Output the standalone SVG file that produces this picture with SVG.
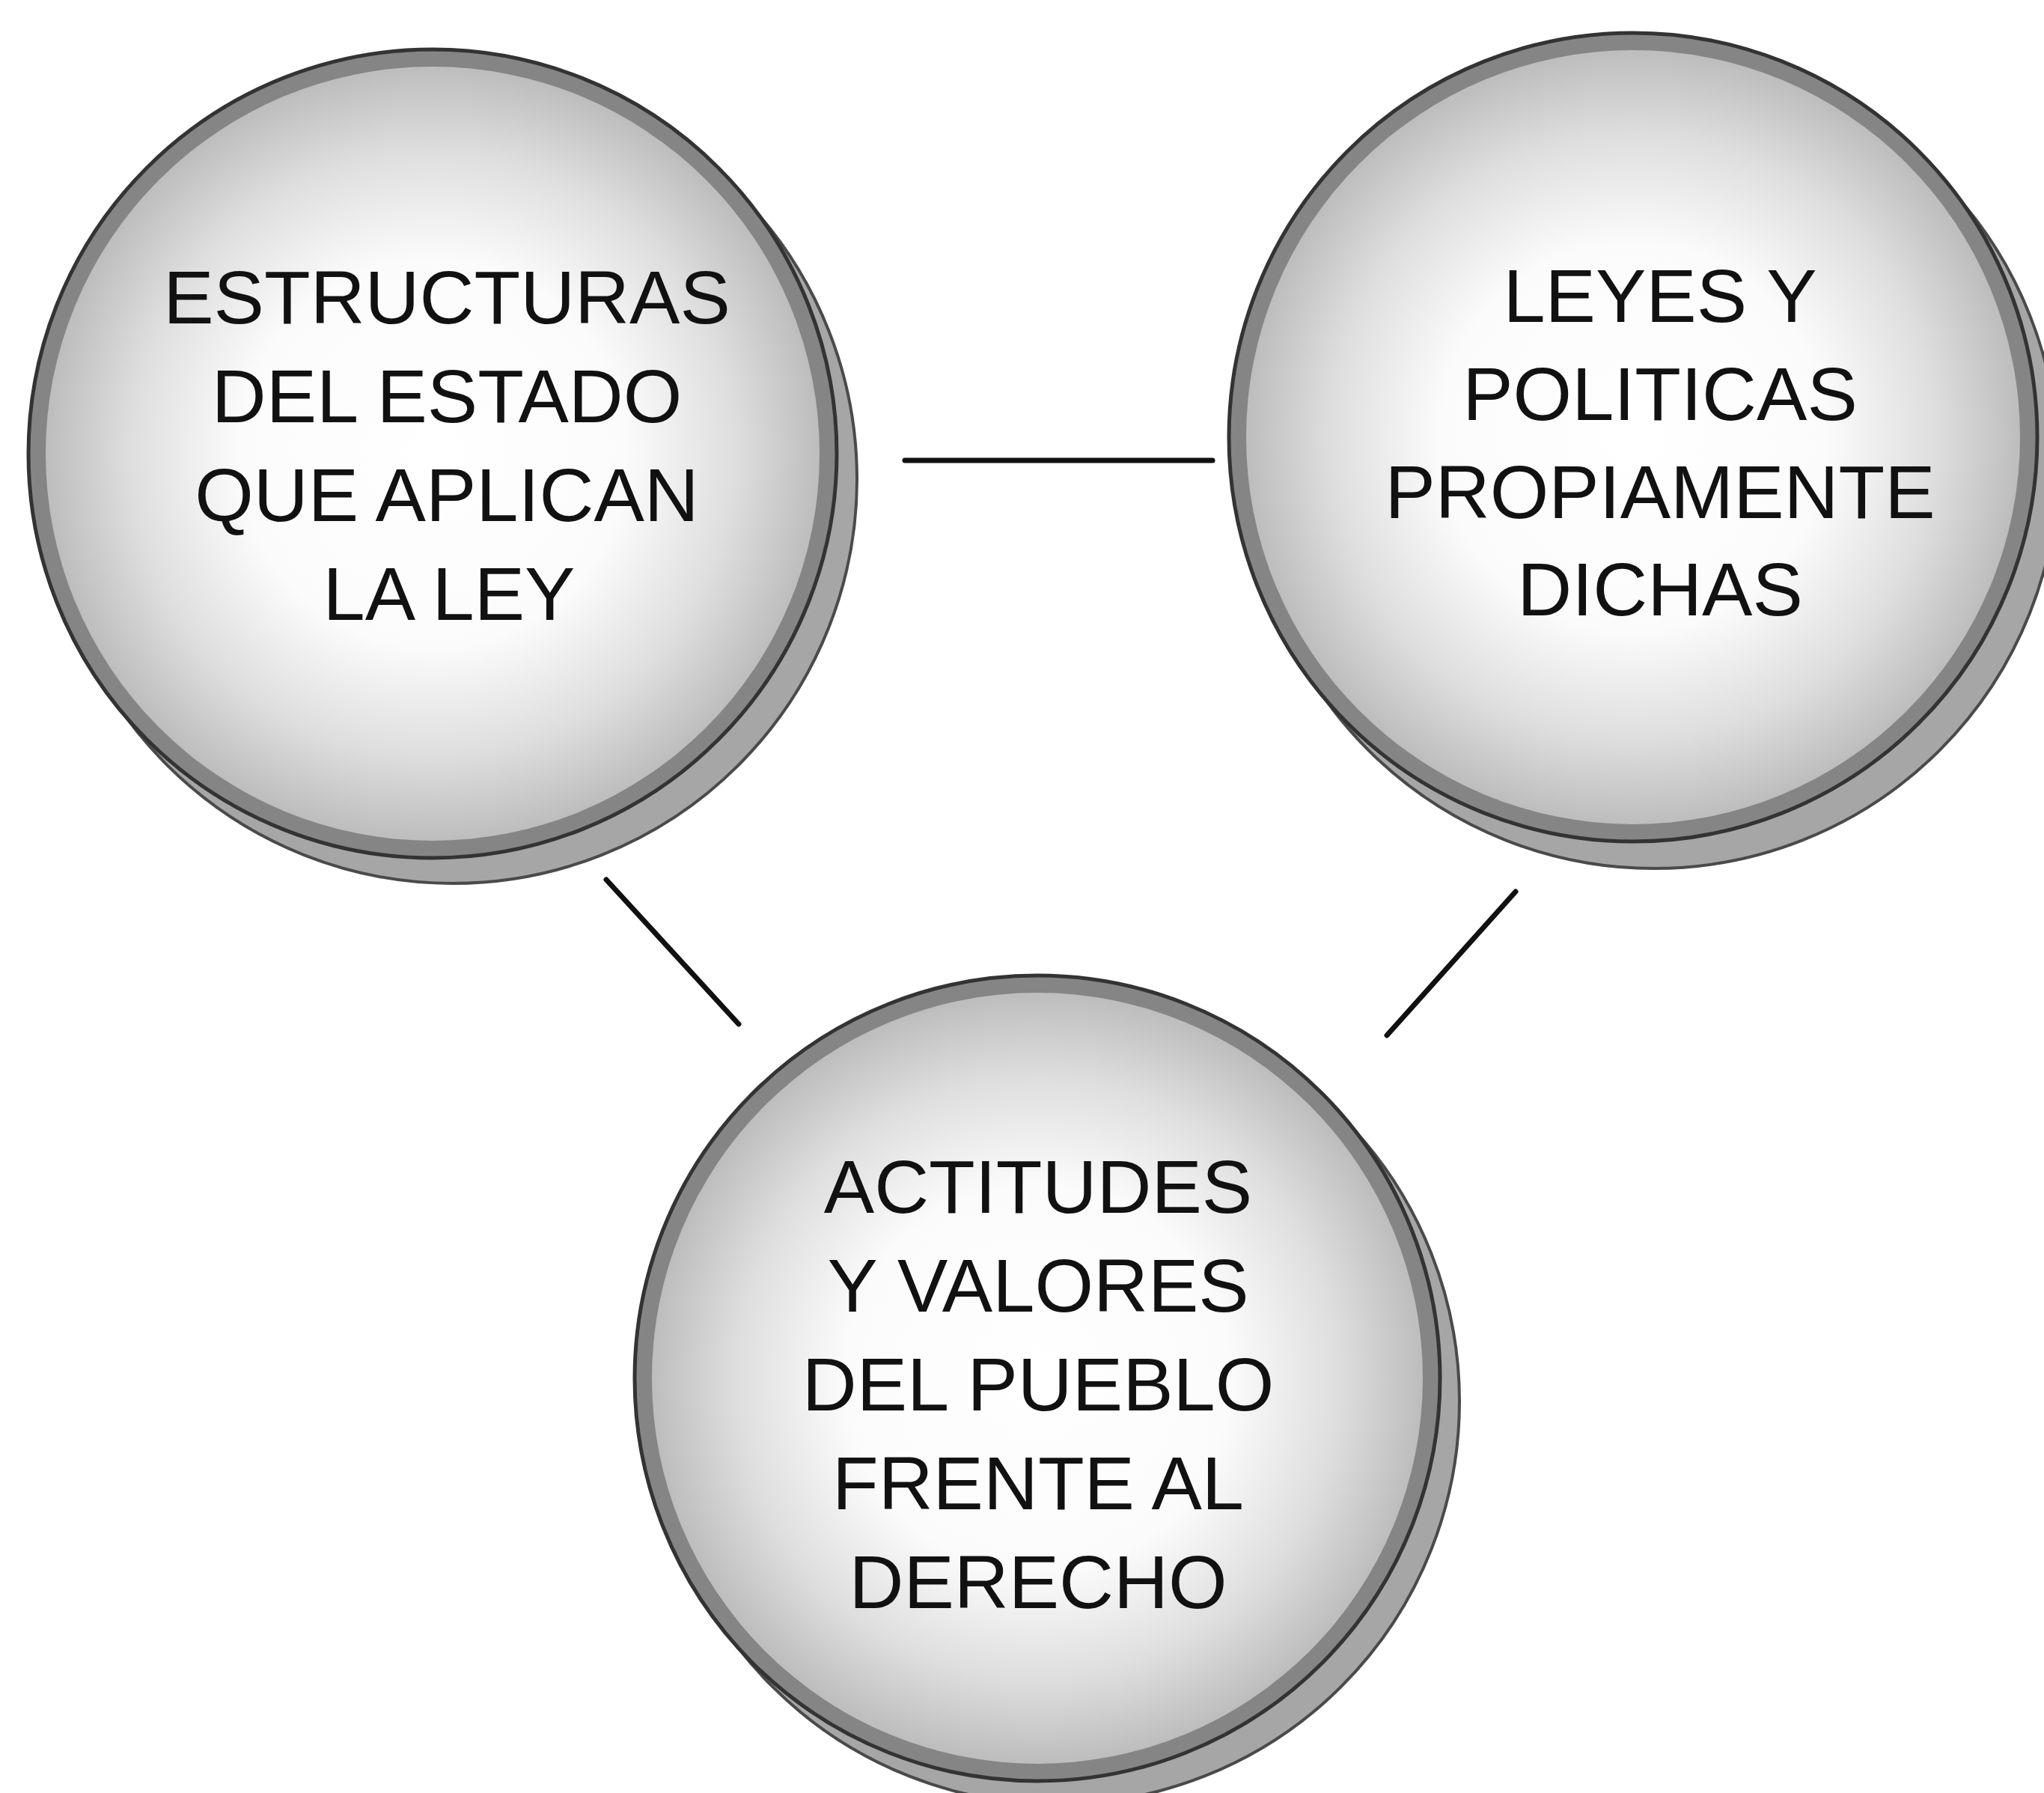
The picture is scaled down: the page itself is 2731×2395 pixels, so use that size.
<svg xmlns="http://www.w3.org/2000/svg" width="2731" height="2395" viewBox="0 0 2731 2395">
<defs>
<radialGradient id="face" cx="50%" cy="50%" r="50%">
<stop offset="0" stop-color="#ffffff"/>
<stop offset="0.5" stop-color="#fbfbfb"/>
<stop offset="0.78" stop-color="#dedede"/>
<stop offset="1" stop-color="#bdbdbd"/>
</radialGradient>
<style>
.thick{fill:#a6a6a6;stroke:#4a4a4a;stroke-width:4}
.rim{fill:#858585;stroke:#333;stroke-width:5}
.face{fill:url(#face)}
.lbl{font-family:"Liberation Sans",Arial,sans-serif;font-size:101px;fill:#111;text-anchor:middle}
.conn{stroke:#111;stroke-width:7;stroke-linecap:round;fill:none}
</style>
</defs>
<rect width="2731" height="2395" fill="#fff"/>
<g id="connectors">
<line class="conn" x1="1209" y1="615" x2="1620" y2="615"/>
<line class="conn" x1="810" y1="1175" x2="987" y2="1368"/>
<line class="conn" x1="2025" y1="1191" x2="1853" y2="1383"/>
</g>
<g id="node-estructuras">
<circle class="thick" cx="605" cy="640" r="540"/>
<circle class="rim" cx="578" cy="606" r="540"/>
<circle class="face" cx="578" cy="606" r="517"/>
<text class="lbl" x="597" y="432">ESTRUCTURAS</text>
<text class="lbl" x="597" y="564">DEL ESTADO</text>
<text class="lbl" x="597" y="696">QUE APLICAN</text>
<text class="lbl" x="600" y="828">LA LEY</text>
</g>
<g id="node-leyes">
<circle class="thick" cx="2210" cy="620" r="540"/>
<circle class="rim" cx="2182" cy="584" r="540"/>
<circle class="face" cx="2182" cy="584" r="517"/>
<text class="lbl" x="2218" y="430">LEYES Y</text>
<text class="lbl" x="2218" y="561">POLITICAS</text>
<text class="lbl" x="2218" y="692">PROPIAMENTE</text>
<text class="lbl" x="2218" y="822">DICHAS</text>
</g>
<g id="node-actitudes">
<circle class="thick" cx="1412" cy="1872" r="538"/>
<circle class="rim" cx="1386" cy="1841" r="538"/>
<circle class="face" cx="1386" cy="1841" r="515"/>
<text class="lbl" x="1387" y="1620">ACTITUDES</text>
<text class="lbl" x="1387" y="1752">Y VALORES</text>
<text class="lbl" x="1387" y="1884">DEL PUEBLO</text>
<text class="lbl" x="1387" y="2016">FRENTE AL</text>
<text class="lbl" x="1387" y="2148">DERECHO</text>
</g>
</svg>
